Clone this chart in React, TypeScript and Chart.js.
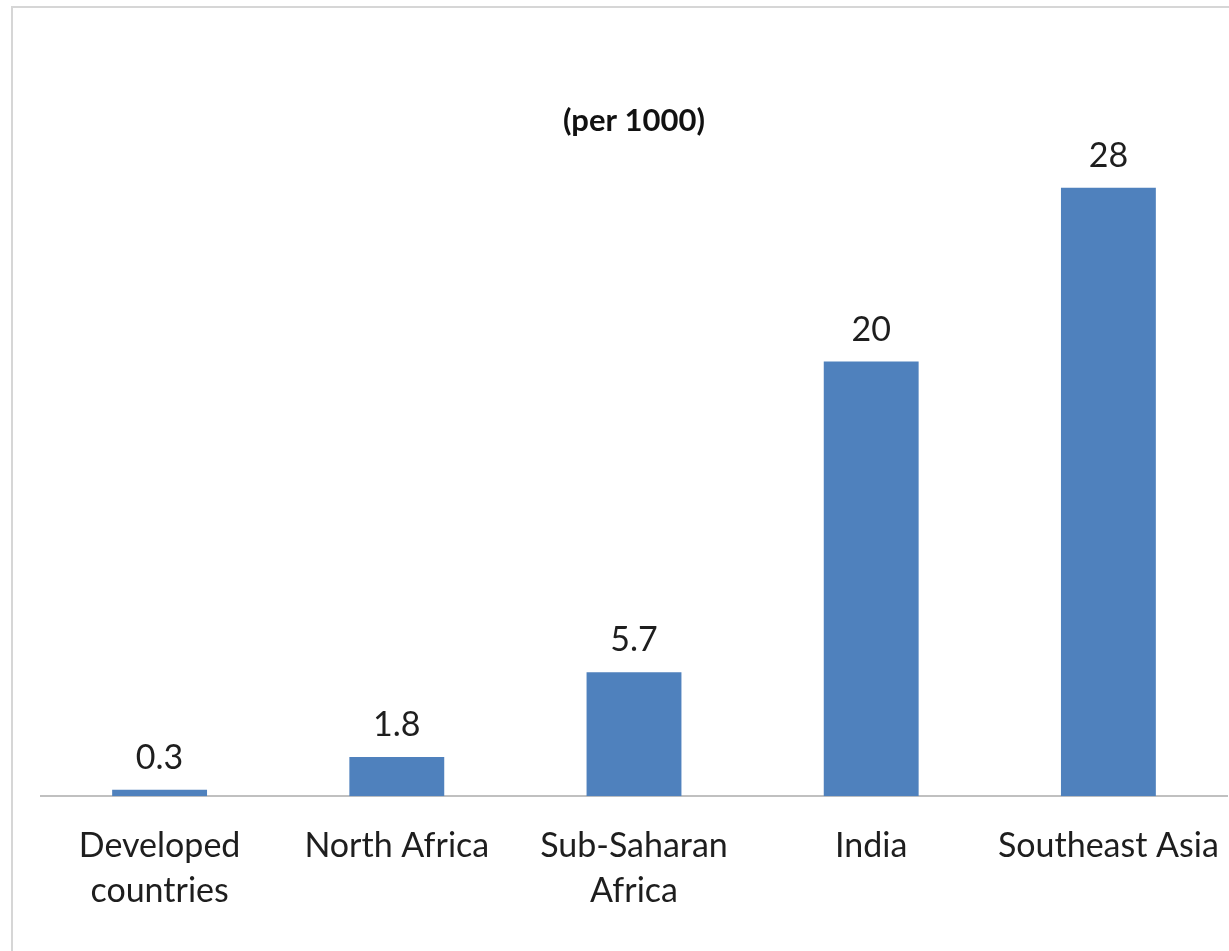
import React, { useEffect, useRef } from "react";
import { Chart, registerables } from "chart.js";

Chart.register(...registerables);

const categories: (string | string[])[] = [
  ["Developed", "countries"],
  "North Africa",
  ["Sub-Saharan", "Africa"],
  "India",
  "Southeast Asia",
];
const values: number[] = [0.3, 1.8, 5.7, 20, 28];
const valueLabels: string[] = ["0.3", "1.8", "5.7", "20", "28"];
const titleText = "(per 1000)";

const FONT = "Lato, 'Open Sans', sans-serif";

// Writes each bar's value just above its top edge
const barValuePlugin = {
  id: "barValues",
  afterDatasetsDraw(chart: any) {
    const ctx = chart.ctx;
    const meta = chart.getDatasetMeta(0);
    ctx.save();
    ctx.font = `34px ${FONT}`;
    ctx.fillStyle = "#1e1e1e";
    ctx.textAlign = "center";
    ctx.textBaseline = "bottom";
    meta.data.forEach((bar: any, i: number) => {
      ctx.fillText(valueLabels[i], bar.x, bar.y - 15);
    });
    ctx.restore();
  },
};

export default function App() {
  const canvasRef = useRef<HTMLCanvasElement | null>(null);

  useEffect(() => {
    if (!canvasRef.current) return;
    const chart = new Chart(canvasRef.current, {
      type: "bar",
      data: {
        labels: categories,
        datasets: [
          {
            data: values,
            backgroundColor: "#4f81bd",
            borderWidth: 0,
            categoryPercentage: 1,
            barPercentage: 0.4,
          },
        ],
      },
      options: {
        animation: false,
        responsive: false,
        maintainAspectRatio: false,
        layout: { padding: { left: 41, right: 2, top: 0, bottom: 11 } },
        plugins: {
          legend: { display: false },
          tooltip: { enabled: false },
          title: {
            display: true,
            text: titleText,
            fullSize: false,
            color: "#111111",
            font: { family: FONT, size: 31, weight: "bold" },
            padding: { top: 102, bottom: 5 },
          },
        },
        scales: {
          x: {
            grid: { display: false, drawTicks: false },
            border: { display: true, color: "#c0c0c0", width: 2 },
            ticks: {
              color: "#1e1e1e",
              font: { family: FONT, size: 34, lineHeight: 1.32 },
              padding: 27,
              maxRotation: 0,
              autoSkip: false,
            },
            // keep the category band edge-to-edge with the axis line
            afterFit: (scale: any) => {
              scale.paddingLeft = 0;
              scale.paddingRight = 0;
            },
          },
          y: {
            display: false,
            min: 0,
            max: 30,
          },
        },
      },
      plugins: [barValuePlugin],
    });
    return () => chart.destroy();
  }, []);

  return (
    <div
      style={{
        position: "fixed",
        left: 0,
        top: 0,
        width: 1229,
        height: 951,
        background: "#ffffff",
      }}
    >
      <div
        style={{
          position: "absolute",
          left: 11,
          top: 6,
          right: 0,
          bottom: 0,
          borderTop: "2px solid #d6d6d6",
          borderLeft: "2px solid #d6d6d6",
        }}
      />
      <canvas
        ref={canvasRef}
        width={1229}
        height={951}
        style={{ position: "absolute", left: 0, top: 0 }}
      />
    </div>
  );
}
